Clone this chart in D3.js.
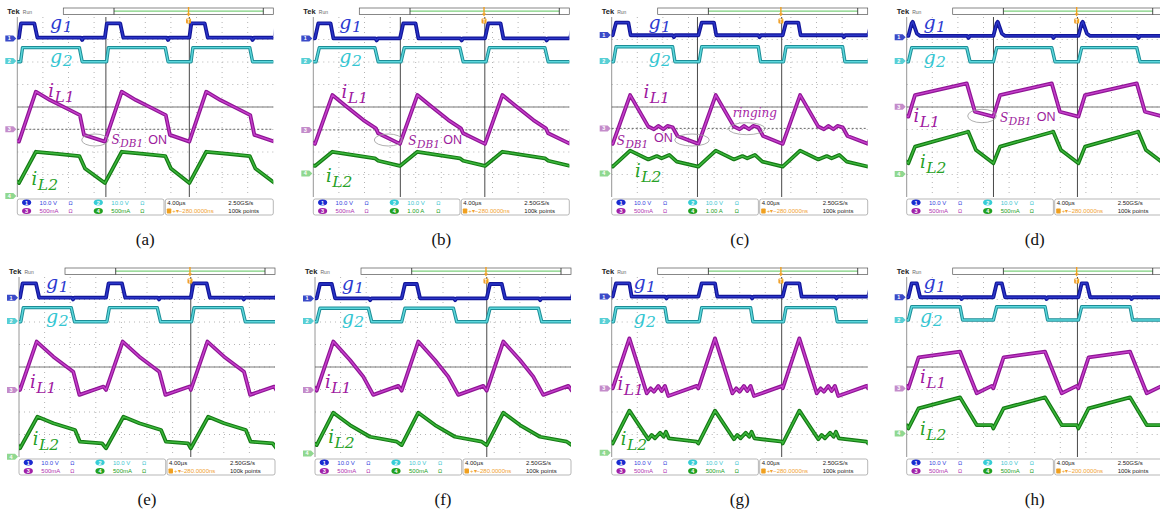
<!DOCTYPE html>
<html>
<head>
<meta charset="utf-8">
<script src="https://cdn.jsdelivr.net/npm/d3@7"></script>
<style>
  body { margin: 0; background: #fff; }
  svg { display: block; }
</style>
</head>
<body>
<svg id="fig" width="1160" height="516"></svg>
<script>
'use strict';

// ---- data (x, y in screen divisions; y counted from top) ----
const panelNames = ['(a)', '(b)', '(c)', '(d)', '(e)', '(f)', '(g)', '(h)'];

// rising edge of g1 for each switching cycle (one before and one after the screen included)
const cycleStarts = [
    [-3.26, 0.065, 3.42, 6.72, 10.05],
    [-3.26, 0.065, 3.385, 6.706, 10.03],
    [-3.30, 0.04, 3.385, 6.68, 10.02],
    [-3.26, 0.065, 3.385, 6.706, 10.03],
    [-3.30, 0.04, 3.40, 6.71, 10.05],
    [-3.26, 0.065, 3.385, 6.706, 10.03],
    [-3.30, 0.04, 3.385, 6.68, 10.02],
    [-3.26, 0.065, 3.385, 6.706, 10.03]
];

// one cycle of each trace: [time after cycle start, level]
const g1Shapes = [
    [[0, 0.92], [0.08, 0.28], [0.60, 0.28], [0.72, 0.92], [2.42, 0.92], [2.47, 1.02], [2.52, 0.92]],
    [[0, 0.95], [0.13, 0.28], [0.61, 0.28], [0.72, 0.95], [2.36, 0.95], [2.41, 1.04], [2.46, 0.95]],
    [[0, 0.81], [0.13, 0.25], [0.61, 0.25], [0.70, 0.81], [2.34, 0.81], [2.39, 0.90], [2.44, 0.81]],
    [[0, 0.84], [0.13, 0.28], [0.17, 0.21], [0.33, 0.73], [0.46, 0.84], [2.30, 0.84], [2.35, 0.93], [2.40, 0.84]],
    [[0, 0.92], [0.10, 0.28], [0.62, 0.28], [0.75, 0.92], [2.02, 0.92], [2.07, 1.00], [2.12, 0.92]],
    [[0, 0.95], [0.13, 0.31], [0.59, 0.31], [0.72, 0.95], [2.04, 0.95], [2.09, 1.03], [2.14, 0.95]],
    [[0, 0.87], [0.13, 0.28], [0.65, 0.28], [0.74, 0.87], [2.05, 0.87], [2.10, 0.95], [2.15, 0.87]],
    [[0, 0.90], [0.13, 0.28], [0.33, 0.28], [0.46, 0.90], [2.03, 0.90], [2.08, 0.98], [2.13, 0.90]]
];

const g2Shapes = [
    [[0.065, 1.99], [0.14, 1.36], [2.36, 1.36], [2.47, 1.99]],
    [[0.04, 1.99], [0.17, 1.36], [2.34, 1.36], [2.47, 1.99]],
    [[0.03, 1.99], [0.13, 1.32], [2.34, 1.32], [2.43, 1.99]],
    [[0, 1.99], [0.13, 1.36], [2.28, 1.36], [2.41, 1.99]],
    [[0.03, 1.99], [0.13, 1.36], [2.00, 1.36], [2.13, 1.99]],
    [[0, 1.99], [0.13, 1.39], [2.02, 1.39], [2.15, 1.99]],
    [[0.03, 1.99], [0.13, 1.36], [2.04, 1.36], [2.13, 1.99]],
    [[0, 1.91], [0.13, 1.32], [2.02, 1.32], [2.12, 1.91]]
];

const iL1Shapes = [
    [[0, 5.54], [0.66, 3.32], [1.21, 3.69], [1.86, 4.06], [2.38, 4.36], [2.54, 5.24]],
    [[0, 5.64], [0.68, 3.47], [1.24, 3.99], [1.89, 4.58], [2.38, 4.95], [2.47, 5.17]],
    [[0, 5.64], [0.68, 3.47], [1.39, 4.87], [1.61, 4.99], [1.78, 4.84], [1.98, 4.99], [2.14, 4.84], [2.34, 4.90], [2.53, 5.29]],
    [[0, 4.43], [0.26, 3.47], [2.28, 2.95], [2.60, 4.21]],
    [[0, 5.02], [0.65, 2.87], [1.30, 3.54], [2.08, 4.21], [2.32, 5.24], [3.26, 4.87]],
    [[0, 5.05], [0.65, 2.87], [1.30, 3.69], [1.82, 4.43], [2.21, 5.24], [3.19, 4.84]],
    [[0, 4.95], [0.65, 2.73], [1.33, 5.17], [1.48, 4.95], [1.61, 5.10], [1.78, 4.84], [1.91, 5.07], [2.04, 4.84], [2.17, 5.29], [3.28, 4.84]],
    [[0, 4.95], [0.40, 3.57], [2.02, 3.32], [2.67, 5.17], [3.26, 4.84]]
];

const iL2Shapes = [
    [[0, 7.38], [0.66, 5.99], [1.50, 6.08], [2.36, 6.18], [2.58, 6.73]],
    [[0, 6.62], [0.68, 5.99], [2.34, 6.28], [2.47, 6.39]],
    [[0, 6.65], [0.68, 5.94], [1.39, 6.33], [1.72, 6.18], [1.91, 6.28], [2.21, 6.13], [2.50, 6.43]],
    [[0, 6.50], [0.26, 5.76], [2.34, 5.10], [2.64, 5.91]],
    [[0, 7.61], [0.68, 6.21], [1.30, 6.50], [2.15, 6.80], [2.34, 7.32], [3.20, 7.39]],
    [[0, 7.47], [0.65, 6.03], [1.30, 6.58], [2.08, 7.10], [3.13, 7.32]],
    [[0, 7.40], [0.65, 5.94], [1.39, 7.21], [1.52, 7.02], [1.65, 7.17], [1.85, 6.92], [1.99, 7.10], [2.08, 6.88], [2.19, 7.17], [3.28, 7.32]],
    [[0, 6.73], [0.40, 5.84], [2.02, 5.35], [2.67, 6.58], [3.26, 6.58]]
];

// channel ground markers (divisions from top)
const marker1 = [0.95, 0.95, 0.80, 0.90, 0.92, 0.95, 0.87, 0.90];
const marker2 = [1.96, 1.96, 1.96, 1.96, 1.96, 1.96, 1.96, 1.91];
const marker3 = [4.99, 5.02, 4.95, 3.99, 5.02, 5.02, 4.95, 4.95];
const marker4 = [7.96, 6.95, 6.95, 6.98, 7.99, 7.84, 7.81, 6.95];

// cursor lines (divisions)
const cursors = [[3.46, 6.72], [3.40, 6.70], [3.35, 6.64], [3.39, 6.67], [6.71], [6.71], [6.64], [6.67]];
const showRefLine = [true, true, true, false, false, false, false, false];

// readout text
const ch1Scale = '10.0 V';
const ch2Scale = '10.0 V';
const ch3Scale = '500mA';
const ch4Scale = ['500mA', '1.00 A', '1.00 A', '500mA', '500mA', '500mA', '500mA', '500mA'];
const timeBase = '4.00\u00b5s';
const sampleRate = '2.50GS/s';
const recordLength = '100k points';
const triggerDelay = ['\u2212280.0000ns', '\u2212280.0000ns', '\u2212280.0000ns', '\u2212280.0000ns',
    '\u2212280.0000ns', '\u2212280.0000ns', '\u2212280.0000ns', '\u2212200.0000ns'];

// ---- layout ----
const panelLeft = [17.3, 313.3, 611.7, 906.7, 19, 315, 611.7, 906.7];
const panelTop = [17, 17, 17, 17, 277, 277, 277, 277];
const plotW = 256;
const plotH = 180;

// label anchor offsets in px from plot top-left: g1, g2, iL1, iL2
const labelPos = [
    [[32.7, 12.3], [32.7, 46.3], [31, 79.7], [14.3, 168]],
    [[26, 12.3], [26, 46.3], [28.3, 81.3], [12.7, 164.7]],
    [[36.7, 12.3], [36.7, 46.3], [31.7, 81.3], [23.3, 159.7]],
    [[16.7, 12.3], [16.7, 47.3], [6.7, 104.7], [13.3, 151.3]],
    [[27, 12.3], [27, 46.3], [11, 111.3], [13.7, 168]],
    [[26.7, 13], [26.7, 47.3], [10, 111.3], [13.3, 166.3]],
    [[21.7, 12.3], [21.7, 47.3], [5.7, 113], [9, 168]],
    [[16.7, 12.3], [13.3, 46.3], [13.3, 106.3], [13.3, 158]]
];

// annotations: S_DB1 ON text (S x, baseline, ON x, ON baseline) and ellipses
const sdbText = [[94.3, 127, 131, 127], [95, 128, 130, 127], [5, 128, 42.3, 124.7], [93.3, 104.7, 130, 104],
    null, null, null, null];
const annEllipses = [
    [[77.7, 123, 13.3, 6]],
    [[75, 123, 14, 6]],
    [[80.3, 123, 17.3, 6], [135, 111.7, 18.3, 6]],
    [[75.3, 99, 14.3, 6.7]],
    [], [], [], []
];

const colours = {
    g1: { outer: '#13169a', inner: '#2a36c8', label: '#2c3ad0', marker: '#3b4bc8', badge: '#1a2bd0', text: '#3344dd' },
    g2: { outer: '#1d8d96', inner: '#5cd8dd', label: '#35c6d2', marker: '#58cfd5', badge: '#38cdd6', text: '#3cc6d0' },
    iL1: { outer: '#8f1595', inner: '#c640cc', label: '#a0199f', marker: '#c48cca', badge: '#a020a8', text: '#b030b0' },
    iL2: { outer: '#157a15', inner: '#3cb83c', label: '#27a127', marker: '#90d890', badge: '#20a020', text: '#20a020' }
};

const svg = d3.select('#fig');
const serif = '"Liberation Serif", "DejaVu Serif", serif';
const mathFont = '"DejaVu Serif", serif';
const sans = '"Liberation Sans", Arial, sans-serif';

function cycleTrace(shape, starts) {
    const pts = [];
    starts.forEach(function (s) {
        shape.forEach(function (p) {
            pts.push([s + p[0], p[1]]);
        });
    });
    return pts;
}

function mathLabel(g, px, py, main, sub, colour, mainSize, subSize, shift) {
    const t = g.append('text')
        .attr('x', px)
        .attr('y', py)
        .attr('font-family', mathFont)
        .attr('font-style', 'italic')
        .attr('fill', colour);
    t.append('tspan').attr('font-size', mainSize).text(main);
    t.append('tspan').attr('font-size', subSize).attr('dx', 0.5).attr('dy', shift).text(sub);
    return t;
}

function drawPanel(i) {
    const left = panelLeft[i];
    const top = panelTop[i];
    const x = d3.scaleLinear().domain([0, 10]).range([left, left + plotW]);
    const y = d3.scaleLinear().domain([0, 8]).range([top, top + plotH]);
    const g = svg.append('g').attr('class', 'panel');

    const clipId = 'clip' + i;
    svg.append('clipPath').attr('id', clipId)
        .append('rect')
        .attr('x', left).attr('y', top - 2)
        .attr('width', plotW).attr('height', plotH + 2);

    // graticule
    const grid = g.append('g');
    grid.selectAll('line.vg')
        .data(d3.range(1, 10))
        .join('line')
        .attr('x1', function (d) { return x(d); })
        .attr('x2', function (d) { return x(d); })
        .attr('y1', top)
        .attr('y2', top + plotH)
        .attr('stroke', '#b4b4b4')
        .attr('stroke-width', 1)
        .attr('stroke-dasharray', '1,4');
    grid.selectAll('line.hg')
        .data(d3.range(1, 8))
        .join('line')
        .attr('x1', left)
        .attr('x2', left + plotW)
        .attr('y1', function (d) { return y(d); })
        .attr('y2', function (d) { return y(d); })
        .attr('stroke', '#b4b4b4')
        .attr('stroke-width', 1)
        .attr('stroke-dasharray', '1,4');
    grid.append('line')
        .attr('x1', left).attr('x2', left + plotW)
        .attr('y1', y(4)).attr('y2', y(4))
        .attr('stroke', '#6a6a6a').attr('stroke-width', 0.9);
    grid.append('line')
        .attr('x1', left).attr('x2', left)
        .attr('y1', top).attr('y2', top + plotH)
        .attr('stroke', '#8a8a8a').attr('stroke-width', 0.9);
    if (showRefLine[i]) {
        grid.append('line')
            .attr('x1', left).attr('x2', left + plotW)
            .attr('y1', y(marker3[i])).attr('y2', y(marker3[i]))
            .attr('stroke', '#555').attr('stroke-width', 0.9)
            .attr('stroke-dasharray', '2,2');
    }
    cursors[i].forEach(function (c) {
        grid.append('line')
            .attr('x1', x(c)).attr('x2', x(c))
            .attr('y1', top).attr('y2', top + plotH)
            .attr('stroke', '#333').attr('stroke-width', 0.9);
    });

    // traces
    const line = d3.line()
        .x(function (d) { return x(d[0]); })
        .y(function (d) { return y(d[1]); });
    const traces = g.append('g').attr('clip-path', 'url(#' + clipId + ')');
    const sets = [
        [g1Shapes[i], colours.g1, 3.8],
        [g2Shapes[i], colours.g2, 3.4],
        [iL1Shapes[i], colours.iL1, 3.8],
        [iL2Shapes[i], colours.iL2, 3.8]
    ];
    sets.forEach(function (s) {
        const pts = cycleTrace(s[0], cycleStarts[i]);
        traces.append('path')
            .attr('d', line(pts))
            .attr('fill', 'none')
            .attr('stroke', s[1].outer)
            .attr('stroke-width', s[2])
            .attr('stroke-linejoin', 'round');
        traces.append('path')
            .attr('d', line(pts))
            .attr('fill', 'none')
            .attr('stroke', s[1].inner)
            .attr('stroke-width', 1.4)
            .attr('stroke-linejoin', 'round');
    });

    // channel markers on the left edge
    const markerSets = [
        [marker1[i], colours.g1.marker, '1'],
        [marker2[i], colours.g2.marker, '2'],
        [marker3[i], colours.iL1.marker, '3'],
        [marker4[i], colours.iL2.marker, '4']
    ];
    markerSets.forEach(function (m) {
        const my = y(m[0]);
        g.append('path')
            .attr('d', 'M' + (left - 12) + ',' + (my - 3) + 'H' + (left - 4) + 'L' + (left - 1) + ',' + my +
                'L' + (left - 4) + ',' + (my + 3) + 'H' + (left - 12) + 'Z')
            .attr('fill', m[1]);
        g.append('text')
            .attr('x', left - 8).attr('y', my + 2)
            .attr('text-anchor', 'middle')
            .attr('font-family', sans).attr('font-size', 5.5).attr('font-weight', 700)
            .attr('fill', '#fff')
            .text(m[2]);
    });

    // waveform labels
    const lp = labelPos[i];
    mathLabel(g, left + lp[0][0], top + lp[0][1], 'g', '1', colours.g1.label, 19, 15.5, 3);
    mathLabel(g, left + lp[1][0], top + lp[1][1], 'g', '2', colours.g2.label, 19, 15.5, 3);
    mathLabel(g, left + lp[2][0], top + lp[2][1], 'i', 'L1', colours.iL1.label, 18, 15.5, 5);
    mathLabel(g, left + lp[3][0], top + lp[3][1], 'i', 'L2', colours.iL2.label, 18, 15.5, 5);

    // annotations
    if (sdbText[i]) {
        const a = sdbText[i];
        mathLabel(g, left + a[0], top + a[1], 'S', 'DB1', '#9c1c9c', 12, 10.5, 3);
        g.append('text')
            .attr('x', left + a[2]).attr('y', top + a[3])
            .attr('font-family', sans).attr('font-size', 12.5)
            .attr('fill', '#9c1c9c')
            .text('ON');
    }
    if (i === 2) {
        g.append('text')
            .attr('x', left + 121).attr('y', top + 99.7)
            .attr('font-family', mathFont).attr('font-style', 'italic').attr('font-size', 12)
            .attr('fill', '#a61fa6')
            .text('ringing');
    }
    annEllipses[i].forEach(function (e) {
        g.append('ellipse')
            .attr('cx', left + e[0]).attr('cy', top + e[1])
            .attr('rx', e[2]).attr('ry', e[3])
            .attr('fill', 'none').attr('stroke', '#9a9a9a').attr('stroke-width', 0.8);
    });

    // header
    g.append('text')
        .attr('x', left - 10).attr('y', top - 3)
        .attr('font-family', sans).attr('font-size', 7.5).attr('font-weight', 700)
        .attr('fill', '#222').text('Tek');
    g.append('text')
        .attr('x', left + 5.5).attr('y', top - 3.5)
        .attr('font-family', sans).attr('font-size', 5)
        .attr('fill', '#666').text('Run');
    g.append('rect')
        .attr('x', left + 46).attr('y', top - 9)
        .attr('width', plotW - 46).attr('height', 6.5)
        .attr('fill', '#fff').attr('stroke', '#555').attr('stroke-width', 0.7);
    g.append('line')
        .attr('x1', left + 96.7).attr('x2', left + 246)
        .attr('y1', top - 5.8).attr('y2', top - 5.8)
        .attr('stroke', '#7ccf7c').attr('stroke-width', 1.2);
    [96.7, 246].forEach(function (tx) {
        g.append('line')
            .attr('x1', left + tx).attr('x2', left + tx)
            .attr('y1', top - 9).attr('y2', top - 2.5)
            .attr('stroke', '#222').attr('stroke-width', 0.8);
    });
    const trigX = x(cursors[i][cursors[i].length - 1]) - 0.8;
    g.append('line')
        .attr('x1', trigX).attr('x2', trigX)
        .attr('y1', top - 10).attr('y2', top - 3)
        .attr('stroke', '#f0a020').attr('stroke-width', 1.4);
    g.append('path')
        .attr('d', 'M' + (trigX - 2) + ',' + (top - 3.5) + 'L' + (trigX + 2) + ',' + (top - 3.5) + 'L' + trigX + ',' + (top - 0.5) + 'Z')
        .attr('fill', '#f0a020');
    g.append('rect')
        .attr('x', trigX - 2.5).attr('y', top + 1.5)
        .attr('width', 5).attr('height', 5).attr('rx', 1)
        .attr('fill', '#f0a020');
    g.append('text')
        .attr('x', trigX).attr('y', top + 5.6)
        .attr('text-anchor', 'middle')
        .attr('font-family', sans).attr('font-size', 4.5).attr('font-weight', 700)
        .attr('fill', '#fff').text('T');

    // readout bar
    const by = top + plotH + 2;
    g.append('rect')
        .attr('x', left).attr('y', by)
        .attr('width', 146.7).attr('height', 16).attr('rx', 2)
        .attr('fill', '#fff').attr('stroke', '#999').attr('stroke-width', 0.7);
    g.append('rect')
        .attr('x', left + 148).attr('y', by)
        .attr('width', plotW - 148).attr('height', 16).attr('rx', 2)
        .attr('fill', '#fff').attr('stroke', '#999').attr('stroke-width', 0.7);
    const r1 = by + 3.5;
    const r2 = by + 12;
    const readouts = [
        [9.3, r1, '1', colours.g1, ch1Scale],
        [81, r1, '2', colours.g2, ch2Scale],
        [9.3, r2, '3', colours.iL1, ch3Scale],
        [81, r2, '4', colours.iL2, ch4Scale[i]]
    ];
    readouts.forEach(function (r) {
        g.append('ellipse')
            .attr('cx', left + r[0]).attr('cy', r[1])
            .attr('rx', 4.6).attr('ry', 3)
            .attr('fill', r[3].badge);
        g.append('text')
            .attr('x', left + r[0]).attr('y', r[1] + 2)
            .attr('text-anchor', 'middle')
            .attr('font-family', sans).attr('font-size', 5.5).attr('font-weight', 700)
            .attr('fill', '#fff').text(r[2]);
        g.append('text')
            .attr('x', left + r[0] + 13).attr('y', r[1] + 2)
            .attr('font-family', sans).attr('font-size', 6)
            .attr('fill', r[3].text).text(r[4]);
        g.append('text')
            .attr('x', left + r[0] + 42).attr('y', r[1] + 2)
            .attr('font-family', sans).attr('font-size', 5.5)
            .attr('fill', r[3].text).text('\u03a9');
    });
    g.append('text')
        .attr('x', left + 150).attr('y', r1 + 2)
        .attr('font-family', sans).attr('font-size', 6)
        .attr('fill', '#222').text(timeBase);
    g.append('text')
        .attr('x', left + 211).attr('y', r1 + 2)
        .attr('font-family', sans).attr('font-size', 6)
        .attr('fill', '#222').text(sampleRate);
    g.append('rect')
        .attr('x', left + 149.5).attr('y', r2 - 2.5)
        .attr('width', 4.5).attr('height', 5).attr('rx', 0.8)
        .attr('fill', '#f0a020');
    g.append('text')
        .attr('x', left + 155).attr('y', r2 + 2)
        .attr('font-family', sans).attr('font-size', 6)
        .attr('fill', '#f0a030').text('+\u25be' + triggerDelay[i]);
    g.append('text')
        .attr('x', left + 211).attr('y', r2 + 2)
        .attr('font-family', sans).attr('font-size', 6)
        .attr('fill', '#222').text(recordLength);

    // caption
    g.append('text')
        .attr('x', left + plotW / 2).attr('y', top + plotH + 48)
        .attr('text-anchor', 'middle')
        .attr('font-family', serif).attr('font-size', 17)
        .attr('fill', '#111').text(panelNames[i]);
}

panelNames.forEach(function (d, i) {
    drawPanel(i);
});
</script>
</body>
</html>
